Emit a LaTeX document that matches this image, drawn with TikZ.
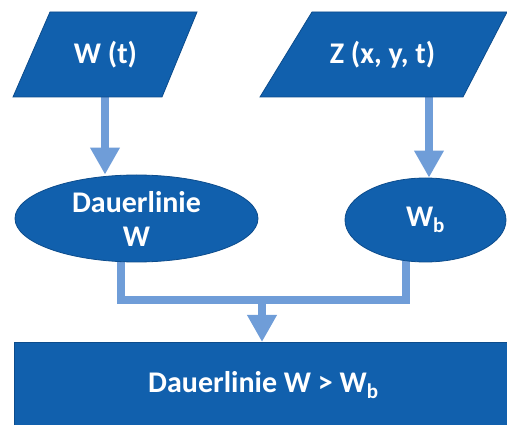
\documentclass[tikz,border=0pt]{standalone}
\usepackage{fontspec}
\setmainfont{Carlito}
\usetikzlibrary{shapes.geometric,arrows.meta,backgrounds}
\definecolor{boxblue}{RGB}{17,96,173}
\definecolor{edgeblue}{RGB}{12,76,140}
\definecolor{flowblue}{RGB}{111,157,216}
\tikzset{
  label text/.style={text=white,font=\fontsize{30}{34}\selectfont\bfseries,align=center},
  datashape/.style={fill=boxblue,draw=edgeblue,line width=0.8pt},
  oval/.style={ellipse,datashape,inner sep=0pt,label text},
  resultbox/.style={rectangle,datashape,inner sep=0pt,label text},
  flow/.style={draw=flowblue,line width=8pt},
  flowarrow/.style={flow,-{Triangle[length=27pt,width=28pt]}},
}
\begin{document}
\begin{tikzpicture}[x=1pt,y=-1pt]
\useasboundingbox (0,0) rectangle (507,425);

% input parallelograms
\path[datashape] (50,12) -- (197,12) -- (162,97) -- (13,97) -- cycle;
\node[label text] (wt) at (105.5,54.5) {W (t)};
\coordinate (wtbot) at (105,97);

\path[datashape] (312,12) -- (507,12) -- (463,97) -- (260,97) -- cycle;
\node[label text] (zxyt) at (382.5,54.5) {Z (x, y, t)};
\coordinate (zbot) at (429,97);

% intermediate results
\node[oval,minimum width=243pt,minimum height=87pt] (dauer) at (136.5,218.5)
  {Dauerlinie\\W};
\node[oval,minimum width=161pt,minimum height=84pt] (wb) at (425.5,220)
  {W\textsubscript{b}};

% final result
\node[resultbox,minimum width=498pt,minimum height=86pt,anchor=north west]
  (result) at (14,342) {Dauerlinie W > W\textsubscript{b}};

% junction of the two branches
\coordinate (jl) at (121,300);
\coordinate (jr) at (406,300);
\coordinate (jm) at (262,300);

\begin{scope}[on background layer]
  \draw[flowarrow] (wtbot) -- (wtbot |- dauer.north);
  \draw[flowarrow] (zbot) -- (zbot |- wb.north);
  \draw[flow] ([yshift=4pt]dauer.south -| jl) -- (jl) -- (jr)
    -- ([yshift=4pt]wb.south -| jr);
  \draw[flowarrow] (jm) -- (jm |- result.north);
\end{scope}
\end{tikzpicture}
\end{document}
